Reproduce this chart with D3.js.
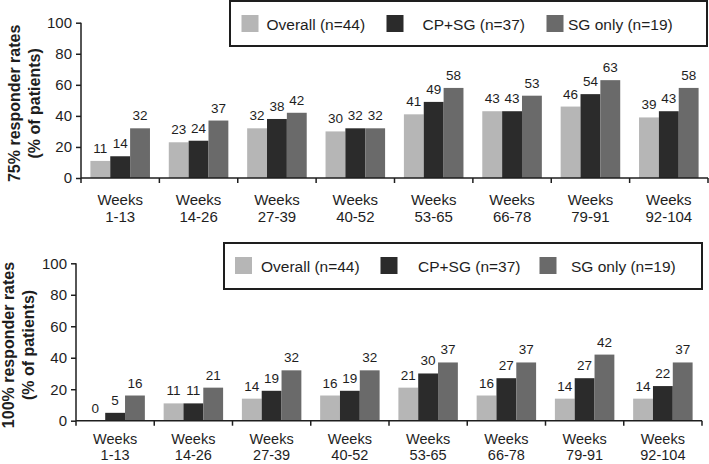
<!DOCTYPE html>
<html>
<head>
<meta charset="utf-8">
<script src="https://cdn.jsdelivr.net/npm/d3@7"></script>
<style>
  html, body { margin: 0; padding: 0; background: #fff; }
  svg { display: block; font-family: "Liberation Sans", Arial, Helvetica, sans-serif; }
</style>
</head>
<body>
<svg id="chart" width="709" height="464"></svg>
<script>
// ---- data ----
const categories = ["Weeks 1-13", "Weeks 14-26", "Weeks 27-39", "Weeks 40-52", "Weeks 53-65", "Weeks 66-78", "Weeks 79-91", "Weeks 92-104"];
const seriesNames = ["Overall (n=44)", "CP+SG (n=37)", "SG only (n=19)"];
const yTicks = [0, 20, 40, 60, 80, 100];

const rate75Overall = [11, 23, 32, 30, 41, 43, 46, 39];
const rate75CPSG    = [14, 24, 38, 32, 49, 43, 54, 43];
const rate75SGonly  = [32, 37, 42, 32, 58, 53, 63, 58];

const rate100Overall = [0, 11, 14, 16, 21, 16, 14, 14];
const rate100CPSG    = [5, 11, 19, 19, 30, 27, 27, 22];
const rate100SGonly  = [16, 21, 32, 32, 37, 37, 42, 37];

const colors = ["#b6b6b6", "#2b2b2b", "#6a6a6a"];
const ink = "#1e1e1e";

const svg = d3.select("#chart");

function panel(opts) {
  const { values, titleLines, x0, x1, y0, y100, legend, titleX, labY, labSize } = opts;
  const g = svg.append("g");

  const x = d3.scaleBand().domain(categories).range([x0, x1]).padding(0);
  const bw = x.bandwidth();
  const pad = bw * 0.12;
  const xs = d3.scaleBand().domain(seriesNames).range([pad, bw - pad]).padding(0);
  const y = d3.scaleLinear().domain([0, 100]).range([y0, y100]);

  // bars
  const rows = categories.map((c, i) => ({ c, vals: seriesNames.map((s, k) => ({ s, k, v: values[k][i] })) }));
  const grp = g.selectAll(".grp").data(rows).join("g")
    .attr("transform", d => `translate(${x(d.c)},0)`);
  grp.selectAll("rect").data(d => d.vals).join("rect")
    .attr("x", d => xs(d.s))
    .attr("width", xs.bandwidth())
    .attr("y", d => y(d.v))
    .attr("height", d => y0 - y(d.v))
    .attr("fill", d => colors[d.k]);
  grp.selectAll("text").data(d => d.vals).join("text")
    .attr("x", d => xs(d.s) + xs.bandwidth() / 2)
    .attr("y", d => y(d.v) - 8)
    .attr("text-anchor", "middle")
    .attr("font-size", 13.5)
    .attr("fill", ink)
    .text(d => d.v);

  // y axis
  const yAxis = d3.axisLeft(y).tickValues(yTicks).tickSize(5).tickPadding(4).tickFormat(d3.format("d"));
  const ya = g.append("g").attr("transform", `translate(${x0},0)`).call(yAxis);
  ya.select(".domain").attr("stroke", ink).attr("stroke-width", 1.5).attr("d", `M0,${y100}V${y0 + 5}`);
  ya.selectAll(".tick line").attr("stroke", ink).attr("stroke-width", 1.5);
  ya.selectAll(".tick text").attr("font-size", 15).attr("fill", ink).attr("font-family", null);

  // x axis
  const xa = g.append("g");
  xa.append("line").attr("x1", x0).attr("x2", x1).attr("y1", y0).attr("y2", y0)
    .attr("stroke", ink).attr("stroke-width", 1.5);
  const bounds = categories.slice(1).map(c => x(c)).concat([x1]);
  xa.selectAll(".xt").data(bounds).join("line")
    .attr("x1", d => d).attr("x2", d => d).attr("y1", y0).attr("y2", y0 + 5)
    .attr("stroke", ink).attr("stroke-width", 1.5);
  const lab = xa.selectAll(".xl").data(categories).join("text")
    .attr("text-anchor", "middle").attr("font-size", labSize).attr("fill", ink);
  lab.append("tspan").attr("x", d => x(d) + bw / 2).attr("y", y0 + labY[0]).text(d => d.split(" ")[0]);
  lab.append("tspan").attr("x", d => x(d) + bw / 2).attr("y", y0 + labY[1]).text(d => d.split(" ")[1]);

  // y title
  const cy = (y0 + y100) / 2 + 3;
  const t = g.append("text").attr("transform", "rotate(-90)").attr("text-anchor", "middle")
    .attr("font-size", 16).attr("font-weight", "bold").attr("fill", ink);
  titleLines.forEach((line, i) => {
    t.append("tspan").attr("x", -cy).attr("y", titleX + i * 20).text(line);
  });

  // legend
  const L = legend;
  g.append("rect").attr("x", L.x).attr("y", L.y).attr("width", L.w).attr("height", L.h)
    .attr("fill", "#fff").attr("stroke", ink).attr("stroke-width", 2);
  seriesNames.forEach((s, k) => {
    g.append("rect").attr("x", L.sx[k]).attr("y", L.y + 14).attr("width", 17).attr("height", 17)
      .attr("fill", colors[k]);
    g.append("text").attr("x", L.tx[k]).attr("y", L.y + 28.5).attr("font-size", 15.5).attr("fill", ink).text(s);
  });
}

panel({
  values: [rate75Overall, rate75CPSG, rate75SGonly],
  titleLines: ["75% responder rates", "(% of patients)"],
  x0: 81, x1: 708, y0: 178, y100: 22.7, titleX: 19.5, labY: [27, 43.5], labSize: 15,
  legend: { x: 230, y: 1, w: 477, h: 45, sx: [241.5, 386.5, 546.5], tx: [266.5, 422.5, 568] }
});

panel({
  values: [rate100Overall, rate100CPSG, rate100SGonly],
  titleLines: ["100% responder rates", "(% of patients)"],
  x0: 76, x1: 702, y0: 420.7, y100: 263.3, titleX: 13.5, labY: [23.2, 39.6], labSize: 14.5,
  legend: { x: 224, y: 243, w: 478, h: 46, sx: [235, 380.5, 539.5], tx: [261, 418, 571] }
});
</script>
</body>
</html>
